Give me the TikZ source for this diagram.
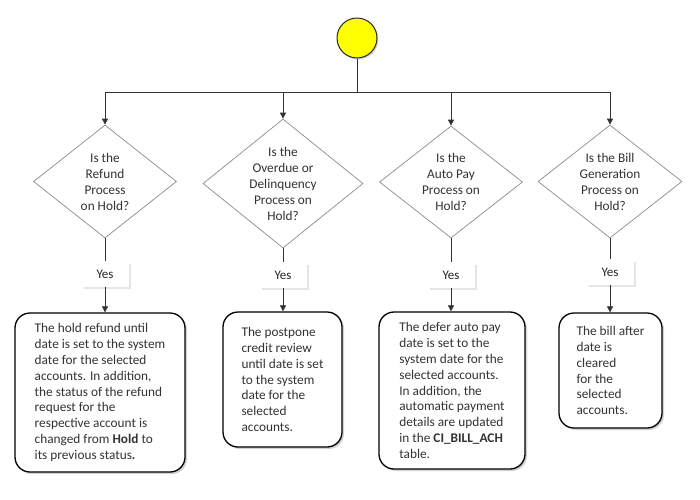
\documentclass[tikz,border=0pt]{standalone}
\usepackage{fontspec}
\setmainfont{Carlito}
\usetikzlibrary{shapes.geometric,shadows,arrows.meta,positioning}

\definecolor{startyellow}{HTML}{FFFF00}
\definecolor{linegray}{HTML}{333333}
\definecolor{edgegray}{HTML}{8C8C8C}
\definecolor{textgray}{HTML}{333333}

\tikzset{
    startdot/.style={circle, draw=black!85, line width=1pt, fill=startyellow,
        minimum size=40pt, inner sep=0pt,
        drop shadow={shadow xshift=1.5pt, shadow yshift=-1.5pt, fill=black!30}},
    decision/.style={diamond, draw=edgegray, line width=0.7pt, fill=white,
        aspect=1.27, inner sep=-3pt, align=center, text=textgray,
        font=\fontsize{13.3}{16}\selectfont},
    yesbox/.style={rectangle, fill=white, minimum width=47pt, minimum height=25pt,
        text=black!85, font=\fontsize{13}{16}\selectfont,
        drop shadow={shadow xshift=2.5pt, shadow yshift=-2.5pt, fill=black!20}},
    actionbox/.style={rectangle, rounded corners=15pt, draw=black, line width=1.3pt,
        fill=white, align=left, text=textgray, inner sep=0pt,
        font=\fontsize{13.3}{15.9}\selectfont,
        drop shadow={shadow xshift=2pt, shadow yshift=-2pt, fill=black!35}},
    link/.style={draw=linegray, line width=0.7pt},
}

\begin{document}
\begin{tikzpicture}[x=1pt, y=-1pt, >={Triangle[length=6pt,width=6pt]}]
    \path[use as bounding box, fill=white] (0,0) rectangle (700,499);

    % start and split
    \node[startdot] (start) at (357,38) {};
    \coordinate (bus) at (357,92);

    % questions
    \node[decision, minimum width=143pt, minimum height=113pt] (refund) at (105,181.5)
        {Is the\\Refund\\Process\\on Hold?};
    \node[decision, minimum width=160pt, minimum height=129pt] (overdue) at (283,183.5)
        {Is the\\Overdue or\\Delinquency\\Process on\\Hold?};
    \node[decision, minimum width=143pt, minimum height=112pt] (autopay) at (451,182)
        {Is the\\Auto Pay\\Process on\\Hold?};
    \node[decision, minimum width=144pt, minimum height=113pt] (bill) at (610,181.5)
        {Is the Bill\\Generation\\Process on\\Hold?};

    % answers
    \node[yesbox] (refund-yes) at (105,274) {Yes};
    \node[yesbox] (overdue-yes) at (283,275) {Yes};
    \node[yesbox] (autopay-yes) at (451,275) {Yes};
    \node[yesbox] (bill-yes) at (610,272) {Yes};

    % actions
    \node[actionbox, minimum width=170pt, minimum height=159pt] (refund-act) at (100,392.5)
        {The hold refund until\\date is set to the system\\date for the selected\\accounts. In addition,\\the status of the refund\\request for the\\respective account is\\changed from \textbf{Hold} to\\its previous status\textbf{.}};
    \node[actionbox, minimum width=119pt, minimum height=135pt] (overdue-act) at (282.5,379.5)
        {The postpone\\credit review\\until date is set\\to the system\\date for the\\selected\\accounts.};
    \node[actionbox, minimum width=146pt, minimum height=157pt] (autopay-act) at (452,390.5)
        {The defer auto pay\\date is set to the\\system date for the\\selected accounts.\\In addition, the\\automatic payment\\details are updated\\in the \textbf{CI\_BILL\_ACH}\\table.};
    \node[actionbox, minimum width=103pt, minimum height=115pt] (bill-act) at (610.5,370.5)
        {The bill after\\date is\\cleared\\for the\\selected\\accounts.};

    % connectors
    \draw[link] (start.south) -- (bus);
    \draw[link] (bus -| refund.north) -- (bus -| bill.north);
    \foreach \q in {refund,overdue,autopay,bill} {
        \draw[link,->] (bus -| \q.north) -- (\q.north);
        \draw[link] (\q.south) -- (\q-yes.north);
        \draw[link,->] (\q-yes.south) -- (\q-yes.south |- \q-act.north);
    }
\end{tikzpicture}
\end{document}
